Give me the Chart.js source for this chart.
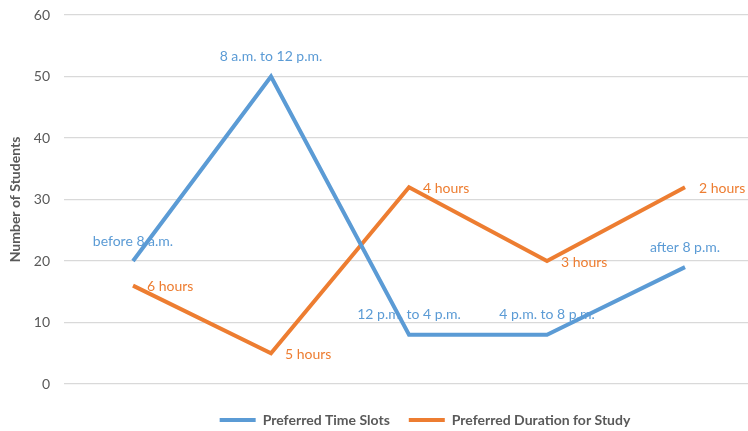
<!DOCTYPE html>
<html>
<head>
<meta charset="utf-8">
<script src="https://cdn.jsdelivr.net/npm/chart.js@4/dist/chart.umd.min.js"></script>
<style>
  html, body { margin: 0; padding: 0; background: #ffffff; }
  #wrap { width: 748px; height: 431px; position: relative; }
</style>
</head>
<body>
<div id="wrap"><canvas id="chart"></canvas></div>
<script>
// Survey results: preferred study time slots and preferred study duration
const timeSlots = ["before 8 a.m.", "8 a.m. to 12 p.m.", "12 p.m. to 4 p.m.", "4 p.m. to 8 p.m.", "after 8 p.m."];
const timeSlotCounts = [20, 50, 8, 8, 19];
const durations = ["6 hours", "5 hours", "4 hours", "3 hours", "2 hours"];
const durationCounts = [16, 5, 32, 20, 32];
const yTicks = [0, 10, 20, 30, 40, 50, 60];

const BLUE = "#5B9BD5";
const ORANGE = "#ED7D31";
const FONT = "Lato, 'Open Sans', sans-serif";

// Plot frame and legend placement
const PLOT = { left: 64, right: 754, top: 15, bottom: 384 };
const LEGEND_TEXT_Y = 420;
const LEGEND_DX = 51;

// Draws a text label next to each point of a line
const pointLabels = {
  id: "pointLabels",
  afterDatasetsDraw(chart) {
    const ctx = chart.ctx;
    chart.data.datasets.forEach((ds, i) => {
      const meta = chart.getDatasetMeta(i);
      const cfg = ds.pointText;
      if (!cfg) return;
      ctx.save();
      ctx.font = "14px " + FONT;
      ctx.fillStyle = ds.borderColor;
      meta.data.forEach((pt, j) => {
        const txt = cfg.texts[j];
        if (cfg.place === "above") {
          ctx.textAlign = "center";
          ctx.textBaseline = "middle";
          ctx.fillText(txt, pt.x, pt.y - 20);
        } else {
          ctx.textAlign = "left";
          ctx.textBaseline = "middle";
          ctx.fillText(txt, pt.x + 14, pt.y + 1);
        }
      });
      ctx.restore();
    });
  }
};

// Pins the plot frame and the legend row after the automatic layout
const frame = {
  id: "frame",
  afterLayout(chart) {
    const { x, y } = chart.scales;
    x.left = PLOT.left; x.right = PLOT.right; x.width = PLOT.right - PLOT.left;
    x.configure();
    y.top = PLOT.top; y.bottom = PLOT.bottom; y.height = PLOT.bottom - PLOT.top;
    y.configure();
    const area = chart.chartArea;
    area.left = PLOT.left; area.right = Math.min(PLOT.right, chart.width);
    area.top = PLOT.top; area.bottom = PLOT.bottom;
    area.width = area.right - area.left; area.height = area.bottom - area.top;

    const lg = chart.legend;
    if (lg) {
      const pad = lg.options.labels.padding;
      const fs = lg.options.labels.font.size;
      const dy = (LEGEND_TEXT_Y - fs / 2 - pad) - lg.top;
      lg.top += dy; lg.bottom += dy;
      lg.left += LEGEND_DX; lg.right += LEGEND_DX;
    }
  }
};

new Chart(document.getElementById("chart"), {
  type: "line",
  data: {
    labels: timeSlots,
    datasets: [
      {
        label: "Preferred Time Slots",
        data: timeSlotCounts,
        borderColor: BLUE,
        backgroundColor: BLUE,
        borderWidth: 4,
        pointRadius: 0,
        tension: 0,
        fill: false,
        clip: 8,
        pointText: { texts: timeSlots, place: "above" }
      },
      {
        label: "Preferred Duration for Study",
        data: durationCounts,
        borderColor: ORANGE,
        backgroundColor: ORANGE,
        borderWidth: 4,
        pointRadius: 0,
        tension: 0,
        fill: false,
        clip: 8,
        pointText: { texts: durations, place: "right" }
      }
    ]
  },
  options: {
    responsive: true,
    maintainAspectRatio: false,
    animation: false,
    layout: { padding: 0 },
    plugins: {
      legend: {
        position: "bottom",
        labels: {
          boxWidth: 36,
          boxHeight: 4,
          padding: 19,
          color: "#595959",
          font: { family: FONT, size: 14, weight: "bold" },
          generateLabels(chart) {
            const items = Chart.defaults.plugins.legend.labels.generateLabels(chart);
            items.forEach(it => { it.lineWidth = 0; });
            return items;
          }
        }
      },
      tooltip: { enabled: false }
    },
    scales: {
      x: {
        offset: true,
        grid: { display: false },
        border: { display: false },
        ticks: { display: false }
      },
      y: {
        min: 0,
        max: 60,
        afterBuildTicks(axis) { axis.ticks = yTicks.map(v => ({ value: v })); },
        afterFit(axis) { axis.width = 64; },
        grid: { color: "#D9D9D9", lineWidth: 1.3, drawTicks: false },
        border: { display: false },
        ticks: {
          color: "#595959",
          padding: 14,
          font: { family: FONT, size: 14 }
        },
        title: {
          display: true,
          text: "Number of Students",
          color: "#595959",
          padding: { top: 7, bottom: 0 },
          font: { family: FONT, size: 14, weight: "bold" }
        }
      }
    }
  },
  plugins: [pointLabels, frame]
});
</script>
</body>
</html>
